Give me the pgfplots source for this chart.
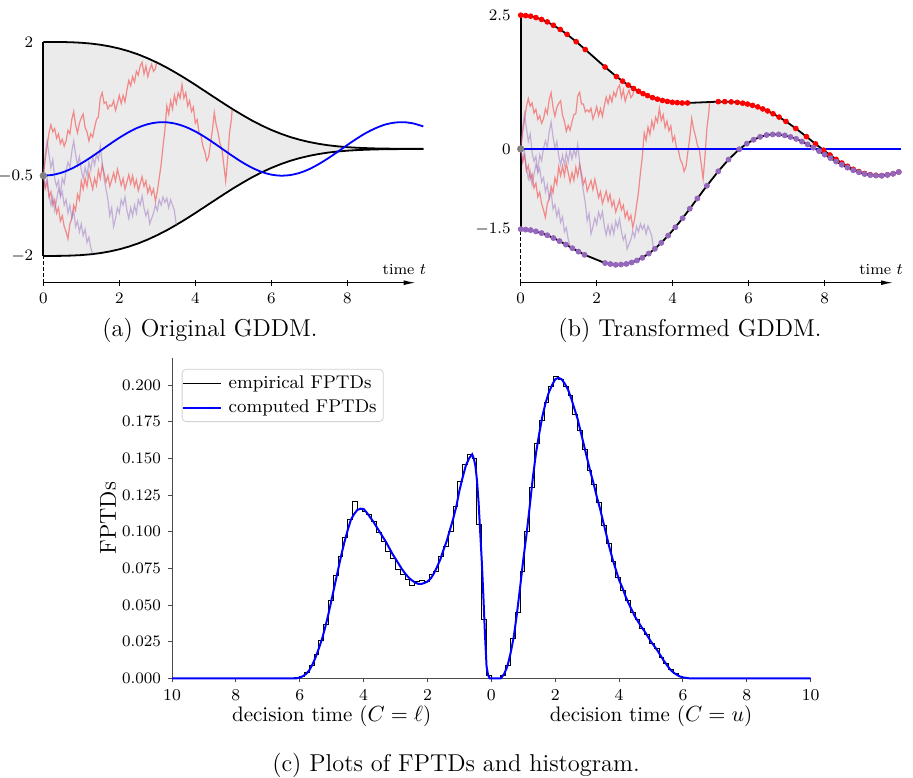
\documentclass[border=0pt]{standalone}
\usepackage{pgfplots}
\pgfplotsset{compat=1.18}
\usepackage{pgfplotstable}
\usetikzlibrary{arrows.meta}

\definecolor{tabpurple}{RGB}{148,103,189}
\definecolor{fillgray}{RGB}{235,235,235}

% boundaries of the original GDDM
\pgfplotstableread{
t u l
0 2.000 -2.000
0.25 2.000 -2.000
0.5 1.998 -1.998
0.75 1.993 -1.993
1 1.984 -1.984
1.25 1.969 -1.969
1.5 1.947 -1.947
1.75 1.916 -1.916
2 1.876 -1.876
2.25 1.826 -1.826
2.5 1.765 -1.765
2.75 1.693 -1.693
3 1.611 -1.611
3.25 1.520 -1.520
3.5 1.419 -1.419
3.75 1.312 -1.312
4 1.199 -1.199
4.25 1.082 -1.082
4.5 0.965 -0.965
4.75 0.849 -0.849
5 0.736 -0.736
5.25 0.629 -0.629
5.5 0.528 -0.528
5.75 0.437 -0.437
6 0.355 -0.355
6.25 0.284 -0.284
6.5 0.222 -0.222
6.75 0.171 -0.171
7 0.129 -0.129
7.25 0.095 -0.095
7.5 0.068 -0.068
7.75 0.048 -0.048
8 0.033 -0.033
8.25 0.022 -0.022
8.5 0.015 -0.015
8.75 0.009 -0.009
9 0.006 -0.006
9.25 0.004 -0.004
9.5 0.002 -0.002
9.75 0.001 -0.001
10 0.001 -0.001
}\bnda

% shaded region of (a): upper boundary forward, lower boundary back
\pgfplotstableread{
t y
0 2.000
0.25 2.000
0.5 1.998
0.75 1.993
1 1.984
1.25 1.969
1.5 1.947
1.75 1.916
2 1.876
2.25 1.826
2.5 1.765
2.75 1.693
3 1.611
3.25 1.520
3.5 1.419
3.75 1.312
4 1.199
4.25 1.082
4.5 0.965
4.75 0.849
5 0.736
5.25 0.629
5.5 0.528
5.75 0.437
6 0.355
6.25 0.284
6.5 0.222
6.75 0.171
7 0.129
7.25 0.095
7.5 0.068
7.75 0.048
8 0.033
8.25 0.022
8.5 0.015
8.75 0.009
9 0.006
9.5 0.002
10 0.001
10 -0.001
9.5 -0.002
9 -0.006
8.75 -0.009
8.5 -0.015
8.25 -0.022
8 -0.033
7.75 -0.048
7.5 -0.068
7.25 -0.095
7 -0.129
6.75 -0.171
6.5 -0.222
6.25 -0.284
6 -0.355
5.75 -0.437
5.5 -0.528
5.25 -0.629
5 -0.736
4.75 -0.849
4.5 -0.965
4.25 -1.082
4 -1.199
3.75 -1.312
3.5 -1.419
3.25 -1.520
3 -1.611
2.75 -1.693
2.5 -1.765
2.25 -1.826
2 -1.876
1.75 -1.916
1.5 -1.947
1.25 -1.969
1 -1.984
0.75 -1.993
0.5 -1.998
0.25 -2.000
0 -2.000
}\polya

% drift of the original GDDM
\pgfplotstableread{
t y
0 -0.500
0.25 -0.484
0.5 -0.439
0.75 -0.366
1 -0.270
1.25 -0.158
1.5 -0.035
1.75 0.089
2 0.208
2.25 0.314
2.5 0.401
2.75 0.462
3 0.495
3.25 0.497
3.5 0.468
3.75 0.410
4 0.327
4.25 0.223
4.5 0.105
4.75 -0.019
5 -0.142
5.25 -0.256
5.5 -0.354
5.75 -0.431
6 -0.480
6.25 -0.500
6.5 -0.488
6.75 -0.447
7 -0.377
7.25 -0.283
7.5 -0.173
7.75 -0.052
8 0.073
8.25 0.193
8.5 0.301
8.75 0.389
9 0.456
9.25 0.492
9.5 0.499
9.75 0.474
10 0.420
}\drifta

% transformed upper boundary (sample points)
\pgfplotstableread{
t y
0 2.500
0.13 2.492
0.26 2.482
0.4 2.456
0.55 2.421
0.7 2.375
0.86 2.312
1.04 2.234
1.22 2.142
1.46 2.005
1.7 1.858
2.22 1.531
2.52 1.353
2.68 1.268
2.83 1.194
2.97 1.130
3.1 1.079
3.22 1.034
3.34 0.997
3.47 0.960
3.6 0.931
3.73 0.906
3.86 0.889
3.99 0.873
4.12 0.866
4.25 0.859
4.39 0.860
5.2 0.884
5.37 0.884
5.54 0.880
5.7 0.871
5.84 0.856
5.97 0.839
6.1 0.815
6.24 0.786
6.37 0.748
6.5 0.710
6.64 0.658
6.8 0.596
6.98 0.515
7.24 0.383
7.52 0.230
7.76 0.094
7.97 -0.023
8.14 -0.113
8.3 -0.194
8.45 -0.263
8.6 -0.324
8.75 -0.380
8.9 -0.422
9.05 -0.458
9.2 -0.480
9.35 -0.492
9.5 -0.497
9.65 -0.483
9.8 -0.462
9.95 -0.430
}\upb

% transformed lower boundary (sample points)
\pgfplotstableread{
t y
0 -1.500
0.13 -1.508
0.26 -1.517
0.4 -1.541
0.55 -1.573
0.7 -1.613
0.86 -1.665
1.02 -1.722
1.19 -1.788
1.36 -1.855
1.52 -1.919
1.68 -1.979
2.22 -2.133
2.36 -2.151
2.5 -2.166
2.64 -2.160
2.78 -2.149
2.92 -2.122
3.06 -2.085
3.2 -2.035
3.37 -1.955
3.53 -1.867
3.7 -1.755
3.88 -1.620
4.07 -1.464
4.26 -1.296
4.45 -1.117
4.65 -0.926
4.9 -0.688
5.2 -0.417
5.47 -0.198
5.75 -0.006
5.95 0.099
6.13 0.172
6.3 0.226
6.47 0.260
6.63 0.271
6.79 0.272
6.95 0.254
7.1 0.224
7.25 0.188
7.4 0.138
7.55 0.085
7.7 0.024
7.85 -0.040
8.0 -0.106
8.15 -0.171
8.3 -0.235
8.45 -0.296
8.6 -0.349
8.75 -0.398
8.9 -0.436
9.05 -0.469
9.2 -0.489
9.35 -0.498
9.5 -0.501
9.65 -0.485
9.8 -0.464
9.95 -0.431
}\lob

% shaded region of (b)
\pgfplotstableread{
t y
0 2.500
0.13 2.492
0.26 2.482
0.4 2.456
0.55 2.421
0.7 2.375
0.86 2.312
1.04 2.234
1.22 2.142
1.46 2.005
1.7 1.858
2.22 1.531
2.52 1.353
2.68 1.268
2.83 1.194
2.97 1.130
3.1 1.079
3.22 1.034
3.34 0.997
3.47 0.960
3.6 0.931
3.73 0.906
3.86 0.889
3.99 0.873
4.12 0.866
4.25 0.859
4.39 0.860
5.2 0.884
5.37 0.884
5.54 0.880
5.7 0.871
5.84 0.856
5.97 0.839
6.1 0.815
6.24 0.786
6.37 0.748
6.5 0.710
6.64 0.658
6.8 0.596
6.98 0.515
7.24 0.383
7.52 0.230
7.76 0.094
7.97 -0.023
8.14 -0.113
8.3 -0.194
8.45 -0.263
8.6 -0.324
8.75 -0.380
8.9 -0.422
9.05 -0.458
9.2 -0.480
9.35 -0.492
9.5 -0.497
9.65 -0.483
9.8 -0.462
9.95 -0.430
9.95 -0.431
9.8 -0.464
9.65 -0.485
9.5 -0.501
9.35 -0.498
9.2 -0.489
9.05 -0.469
8.9 -0.436
8.75 -0.398
8.6 -0.349
8.45 -0.296
8.3 -0.235
8.15 -0.171
8.0 -0.106
7.85 -0.040
7.7 0.024
7.55 0.085
7.4 0.138
7.25 0.188
7.1 0.224
6.95 0.254
6.79 0.272
6.63 0.271
6.47 0.260
6.3 0.226
6.13 0.172
5.95 0.099
5.75 -0.006
5.47 -0.198
5.2 -0.417
4.9 -0.688
4.65 -0.926
4.45 -1.117
4.26 -1.296
4.07 -1.464
3.88 -1.620
3.7 -1.755
3.53 -1.867
3.37 -1.955
3.2 -2.035
3.06 -2.085
2.92 -2.122
2.78 -2.149
2.64 -2.160
2.5 -2.166
2.36 -2.151
2.22 -2.133
1.68 -1.979
1.52 -1.919
1.36 -1.855
1.19 -1.788
1.02 -1.722
0.86 -1.665
0.7 -1.613
0.55 -1.573
0.4 -1.541
0.26 -1.517
0.13 -1.508
0 -1.500
}\polyb

% sample paths: t, original (a), transformed (b)
\pgfplotstableread{
t a b
0.00 -0.50 0.00
0.05 -0.20 0.30
0.10 0.05 0.55
0.15 0.30 0.79
0.20 0.45 0.94
0.25 0.32 0.80
0.30 0.38 0.86
0.35 0.20 0.67
0.40 0.28 0.74
0.45 0.10 0.55
0.50 0.18 0.62
0.55 0.05 0.48
0.60 0.15 0.56
0.65 0.35 0.75
0.70 0.28 0.66
0.75 0.55 0.92
0.80 0.70 1.05
0.85 0.45 0.78
0.90 0.30 0.61
0.95 0.48 0.77
1.00 0.58 0.85
1.05 0.65 0.90
1.10 0.40 0.63
1.15 0.32 0.52
1.20 0.15 0.33
1.25 0.28 0.44
1.30 0.22 0.35
1.35 0.40 0.51
1.40 0.55 0.64
1.45 0.60 0.66
1.50 0.95 0.99
1.55 1.05 1.06
1.60 0.85 0.84
1.65 0.88 0.84
1.70 0.75 0.69
1.75 0.82 0.73
1.80 0.80 0.69
1.85 0.90 0.76
1.90 0.72 0.56
1.95 0.85 0.66
2.00 1.00 0.79
2.05 0.85 0.62
2.10 1.00 0.75
2.15 0.88 0.61
2.20 1.10 0.81
2.25 1.28 0.97
2.30 1.18 0.85
2.35 1.35 1.00
2.40 1.25 0.88
2.45 1.45 1.06
2.50 1.38 0.98
2.55 1.55 1.13
2.60 1.62 1.19
2.65 1.40 0.96
2.70 1.55 1.10
2.75 1.35 0.89
2.80 1.48 1.01
2.85 1.58 1.10
2.90 1.45 0.96
2.95 1.50 1.01
2.98 1.61 1.11
}\pathA

\pgfplotstableread{
t a b
0.00 -0.50 0.00
0.05 -0.75 -0.25
0.10 -0.62 -0.12
0.15 -0.90 -0.41
0.20 -0.80 -0.31
0.25 -1.05 -0.57
0.30 -0.95 -0.47
0.35 -1.20 -0.73
0.40 -1.10 -0.64
0.45 -1.35 -0.90
0.50 -1.25 -0.81
0.55 -1.45 -1.02
0.60 -1.55 -1.14
0.65 -1.68 -1.28
0.70 -1.40 -1.02
0.75 -1.30 -0.93
0.80 -1.05 -0.70
0.85 -1.15 -0.82
0.90 -0.85 -0.54
0.95 -0.95 -0.66
1.00 -0.60 -0.33
1.05 -0.75 -0.50
1.10 -0.55 -0.32
1.15 -0.70 -0.50
1.20 -0.45 -0.27
1.25 -0.60 -0.44
1.30 -0.75 -0.62
1.35 -0.55 -0.44
1.40 -0.68 -0.59
1.45 -0.40 -0.34
1.50 -0.55 -0.51
1.55 -0.30 -0.29
1.60 -0.45 -0.46
1.65 -0.62 -0.66
1.70 -0.50 -0.56
1.75 -0.70 -0.79
1.80 -0.58 -0.69
1.85 -0.45 -0.59
1.90 -0.60 -0.76
1.95 -0.38 -0.57
2.00 -0.52 -0.73
2.05 -0.68 -0.91
2.10 -0.55 -0.80
2.15 -0.75 -1.02
2.20 -0.62 -0.91
2.25 -0.48 -0.79
2.30 -0.65 -0.98
2.35 -0.50 -0.85
2.40 -0.70 -1.07
2.45 -0.58 -0.97
2.50 -0.78 -1.18
2.55 -0.65 -1.07
2.60 -0.52 -0.95
2.65 -0.70 -1.14
2.70 -0.60 -1.05
2.75 -0.82 -1.28
2.80 -0.70 -1.17
2.85 -0.85 -1.33
2.90 -0.75 -1.24
2.95 -0.98 -1.47
3.00 -0.80 -1.30
3.05 -0.55 -1.05
3.10 -0.30 -0.80
3.15 0.05 -0.45
3.20 0.35 -0.15
3.25 0.80 0.30
3.30 0.65 0.16
3.35 0.90 0.41
3.40 0.75 0.27
3.45 1.00 0.52
3.50 0.85 0.38
3.55 1.05 0.59
3.60 0.95 0.50
3.65 1.20 0.76
3.70 0.95 0.53
3.75 1.05 0.64
3.80 0.80 0.40
3.85 0.90 0.52
3.90 0.70 0.34
3.95 0.78 0.43
4.00 0.48 0.15
4.05 0.55 0.24
4.10 0.30 0.01
4.15 0.25 -0.02
4.20 0.05 -0.20
4.25 -0.05 -0.27
4.30 -0.22 -0.42
4.35 -0.15 -0.33
4.40 0.10 -0.05
4.45 0.35 0.22
4.50 0.68 0.57
4.55 0.45 0.37
4.60 0.30 0.24
4.65 0.10 0.07
4.70 0.00 -0.01
4.75 -0.30 -0.28
4.80 -0.60 -0.56
4.85 -0.20 -0.13
4.90 0.30 0.39
4.95 0.55 0.67
4.97 0.74 0.87
}\pathB

\pgfplotstableread{
t a b
0.00 -0.50 0.00
0.05 -0.10 0.40
0.10 0.15 0.65
0.15 -0.10 0.39
0.20 -0.35 0.14
0.25 -0.20 0.28
0.30 -0.55 -0.07
0.35 -0.70 -0.23
0.40 -0.60 -0.14
0.45 -0.90 -0.45
0.50 -0.80 -0.36
0.55 -1.05 -0.62
0.60 -0.95 -0.54
0.65 -1.20 -0.80
0.70 -1.05 -0.67
0.75 -1.30 -0.93
0.80 -1.15 -0.80
0.85 -1.45 -1.12
0.90 -1.35 -1.04
0.95 -1.55 -1.26
1.00 -1.40 -1.13
1.05 -1.62 -1.37
1.10 -1.50 -1.27
1.15 -1.75 -1.55
1.20 -1.65 -1.47
1.25 -1.85 -1.69
1.30 -1.96 -1.83
}\pathC

\pgfplotstableread{
t a b
0.00 -0.50 0.00
0.05 -0.70 -0.20
0.10 -0.55 -0.05
0.15 -0.85 -0.36
0.20 -1.05 -0.56
0.25 -0.90 -0.42
0.30 -1.15 -0.67
0.35 -0.95 -0.48
0.40 -0.75 -0.29
0.45 -0.85 -0.40
0.50 -0.55 -0.11
0.55 -0.65 -0.22
0.60 -0.40 0.01
0.65 -0.25 0.15
0.70 -0.35 0.03
0.75 -0.05 0.32
0.80 0.15 0.50
0.85 -0.10 0.23
0.90 -0.30 0.01
0.95 -0.15 0.14
1.00 -0.40 -0.13
1.05 -0.55 -0.30
1.10 -0.35 -0.12
1.15 -0.50 -0.30
1.20 -0.25 -0.07
1.25 -0.40 -0.24
1.30 -0.15 -0.02
1.35 -0.30 -0.19
1.40 -0.10 -0.01
1.45 -0.20 -0.14
1.50 0.05 0.09
1.55 -0.25 -0.24
1.60 -0.55 -0.56
1.65 -0.75 -0.79
1.70 -0.95 -1.01
1.75 -1.25 -1.34
1.80 -1.10 -1.21
1.85 -1.45 -1.59
1.90 -1.30 -1.46
1.95 -1.10 -1.29
2.00 -1.20 -1.41
2.05 -0.95 -1.18
2.10 -1.05 -1.30
2.15 -0.90 -1.17
2.20 -1.15 -1.44
2.25 -1.30 -1.61
2.30 -1.10 -1.43
2.35 -1.25 -1.60
2.40 -1.05 -1.42
2.45 -1.20 -1.59
2.50 -0.95 -1.35
2.55 -1.05 -1.47
2.60 -0.88 -1.31
2.65 -1.10 -1.54
2.70 -1.25 -1.70
2.75 -1.15 -1.61
2.80 -1.40 -1.87
2.85 -1.30 -1.78
2.90 -1.20 -1.69
2.95 -1.05 -1.54
3.00 -1.15 -1.65
3.05 -0.95 -1.45
3.10 -1.05 -1.55
3.15 -0.90 -1.40
3.20 -1.00 -1.50
3.25 -0.92 -1.42
3.30 -1.10 -1.59
3.35 -0.95 -1.44
3.40 -1.05 -1.53
3.45 -1.15 -1.63
3.50 -1.42 -1.89
}\pathD

% histogram of first passage times (left bin edge, height); negative side is C = l
\pgfplotstableread{
x y
-6.30 0
-6.15 0.0003
-6.00 0.0015
-5.85 0.0040
-5.70 0.0090
-5.55 0.0160
-5.40 0.0260
-5.25 0.0370
-5.10 0.0530
-4.95 0.0700
-4.80 0.0830
-4.65 0.0960
-4.50 0.1080
-4.35 0.1205
-4.20 0.1150
-4.05 0.1140
-3.90 0.1120
-3.75 0.1070
-3.60 0.0995
-3.45 0.0935
-3.30 0.0865
-3.15 0.0820
-3.00 0.0740
-2.85 0.0705
-2.70 0.0675
-2.55 0.0630
-2.40 0.0660
-2.25 0.0665
-2.10 0.0660
-1.95 0.0710
-1.80 0.0730
-1.65 0.0830
-1.50 0.0900
-1.35 0.1000
-1.20 0.1170
-1.05 0.1340
-0.90 0.1460
-0.75 0.1530
-0.60 0.1500
-0.45 0.1050
-0.30 0.0400
-0.15 0.0020
0.00 0
0.15 0
0.30 0.0020
0.45 0.0090
0.60 0.0270
0.75 0.0450
0.90 0.0730
1.05 0.1000
1.20 0.1300
1.35 0.1600
1.50 0.1760
1.65 0.1880
1.80 0.1990
1.95 0.2060
2.10 0.2040
2.25 0.1990
2.40 0.1930
2.55 0.1800
2.70 0.1690
2.85 0.1560
3.00 0.1420
3.15 0.1320
3.30 0.1200
3.45 0.1040
3.60 0.0920
3.75 0.0800
3.90 0.0690
4.05 0.0600
4.20 0.0530
4.35 0.0450
4.50 0.0400
4.65 0.0340
4.80 0.0300
4.95 0.0235
5.10 0.0200
5.25 0.0145
5.40 0.0100
5.55 0.0060
5.70 0.0030
5.85 0.0012
6.00 0.0003
6.15 0
}\histo

% computed densities
\pgfplotstableread{
x y
-10 0
-6.1 0
-6.0 0.0005
-5.9 0.0015
-5.8 0.003
-5.7 0.0055
-5.6 0.0095
-5.5 0.0145
-5.4 0.0205
-5.3 0.027
-5.2 0.035
-5.1 0.044
-5.0 0.054
-4.9 0.064
-4.8 0.074
-4.7 0.084
-4.6 0.093
-4.5 0.101
-4.4 0.108
-4.3 0.112
-4.2 0.1148
-4.1 0.1157
-4.0 0.1155
-3.9 0.113
-3.8 0.110
-3.7 0.107
-3.6 0.1035
-3.5 0.100
-3.4 0.0965
-3.3 0.093
-3.2 0.089
-3.1 0.085
-3.0 0.0815
-2.9 0.078
-2.8 0.0745
-2.7 0.0715
-2.6 0.069
-2.5 0.067
-2.4 0.0655
-2.3 0.0645
-2.2 0.0643
-2.1 0.065
-2.0 0.066
-1.9 0.068
-1.8 0.0715
-1.7 0.076
-1.6 0.081
-1.5 0.0875
-1.4 0.0935
-1.3 0.101
-1.2 0.1085
-1.1 0.117
-1.0 0.128
-0.9 0.137
-0.8 0.145
-0.7 0.150
-0.6 0.1528
-0.55 0.150
-0.5 0.145
-0.45 0.135
-0.4 0.120
-0.35 0.100
-0.3 0.080
-0.25 0.056
-0.2 0.030
-0.15 0.008
-0.1 0.002
-0.05 0
0.3 0
0.4 0.003
0.5 0.008
0.6 0.017
0.7 0.028
0.8 0.044
0.9 0.062
1.0 0.081
1.1 0.098
1.2 0.117
1.3 0.137
1.4 0.154
1.5 0.167
1.6 0.179
1.7 0.188
1.8 0.195
1.9 0.200
2.0 0.204
2.1 0.205
2.2 0.204
2.3 0.201
2.4 0.197
2.5 0.191
2.6 0.184
2.7 0.177
2.8 0.168
2.9 0.159
3.0 0.150
3.1 0.141
3.2 0.133
3.3 0.124
3.4 0.116
3.5 0.107
3.6 0.098
3.7 0.089
3.8 0.081
3.9 0.074
4.0 0.067
4.1 0.062
4.2 0.056
4.3 0.051
4.4 0.0465
4.5 0.042
4.6 0.0385
4.7 0.035
4.8 0.032
4.9 0.0285
5.0 0.025
5.1 0.022
5.2 0.019
5.3 0.0155
5.4 0.012
5.5 0.009
5.6 0.006
5.7 0.004
5.8 0.0025
5.9 0.0013
6.0 0.0006
6.2 0
10 0
}\dens

\pgfplotsset{
  gddm/.style={
    scale only axis, clip=false,
    xmin=0, xmax=9.8,
    axis x line*=bottom, axis y line*=left,
    x axis line style={line width=0.6pt, -{Latex[length=6pt,width=2.4pt]}},
    y axis line style={draw=none},
    xtick={0,2,4,6,8},
    tick align=center, major tick length=3pt,
    xtick style={line width=0.6pt, black},
    ytick style={draw=none},
    tick label style={font=\fontsize{7.7}{9}\selectfont},
  },
  redpath/.style={red, opacity=0.42, line width=0.6pt},
  purplepath/.style={tabpurple, opacity=0.45, line width=0.6pt},
}

\begin{document}
\begin{tikzpicture}
\useasboundingbox (0,0) rectangle (456.5pt,388.5pt);

% ---------------- (a) ----------------
\begin{axis}[gddm, at={(21.65pt,247.15pt)}, anchor=south west,
  width=186.2pt, height=120.4pt, ymin=-2.5, ymax=2,
  ytick={-2,-0.5,2}]
  \addplot[fill=fillgray, draw=none] table[x=t,y=y] {\polya};
  \addplot[black, line width=0.9pt] table[x=t,y=u] {\bnda};
  \addplot[black, line width=0.9pt] table[x=t,y=l] {\bnda};
  \addplot[black, line width=0.9pt] coordinates {(0,-2) (0,2)};
  \addplot[black, line width=0.5pt, dash pattern=on 1.6pt off 1.4pt] coordinates {(0,-2.5) (0,-2)};
  \addplot[redpath] table[x=t,y=a] {\pathA};
  \addplot[redpath] table[x=t,y=a] {\pathB};
  \addplot[purplepath] table[x=t,y=a] {\pathC};
  \addplot[purplepath] table[x=t,y=a] {\pathD};
  \addplot[blue, line width=0.9pt, smooth] table[x=t,y=y] {\drifta};
  \addplot[only marks, mark=*, mark size=1.6pt, color=gray] coordinates {(0,-0.5)};
  \node[anchor=base east, font=\fontsize{7.7}{9}\selectfont] at (axis cs:10.26,-2.34) {time $t$};
\end{axis}

% ---------------- (b) ----------------
\begin{axis}[gddm, at={(260.35pt,247.15pt)}, anchor=south west,
  width=186.2pt, height=133.75pt, ymin=-2.5, ymax=2.5,
  ytick={-1.5,0,2.5}]
  \addplot[fill=fillgray, draw=none] table[x=t,y=y] {\polyb};
  \addplot[black, line width=0.9pt] table[x=t,y=y] {\upb};
  \addplot[black, line width=0.9pt] table[x=t,y=y] {\lob};
  \addplot[black, line width=0.9pt] coordinates {(0,-1.5) (0,2.5)};
  \addplot[black, line width=0.5pt, dash pattern=on 1.6pt off 1.4pt] coordinates {(0,-2.5) (0,-1.5)};
  \addplot[redpath] table[x=t,y=b] {\pathA};
  \addplot[redpath] table[x=t,y=b] {\pathB};
  \addplot[purplepath] table[x=t,y=b] {\pathC};
  \addplot[purplepath] table[x=t,y=b] {\pathD};
  \addplot[blue, line width=0.9pt] coordinates {(0,0) (10,0)};
  \addplot[only marks, mark=*, mark size=1.2pt, color=red] table[x=t,y=y] {\upb};
  \addplot[only marks, mark=*, mark size=1.25pt, color=tabpurple] table[x=t,y=y] {\lob};
  \addplot[only marks, mark=*, mark size=1.6pt, color=gray] coordinates {(0,0)};
  \node[anchor=base east, font=\fontsize{7.7}{9}\selectfont] at (axis cs:10.24,-2.34) {time $t$};
\end{axis}

% ---------------- (c) ----------------
\begin{axis}[scale only axis, clip=false,
  at={(86pt,49.35pt)}, anchor=south west,
  width=319.35pt, height=160.15pt,
  xmin=-10, xmax=10, ymin=0, ymax=0.2185,
  axis lines*=left,
  axis line style={black!70, line width=0.5pt},
  tick align=outside, major tick length=2pt,
  tick style={black!70, line width=0.5pt},
  xtick={-10,-8,-6,-4,-2,0,2,4,6,8,10},
  xticklabels={10,8,6,4,2,0,2,4,6,8,10},
  ytick={0,0.025,0.05,0.075,0.1,0.125,0.15,0.175,0.2},
  scaled y ticks=false,
  yticklabel style={/pgf/number format/fixed, /pgf/number format/fixed zerofill, /pgf/number format/precision=3},
  tick label style={font=\fontsize{8.3}{9.5}\selectfont},
  ylabel={FPTDs},
  ylabel style={at={(axis description cs:-0.1,0.5)}, anchor=center, font=\fontsize{11.5}{13}\selectfont},
  legend style={at={(axis description cs:0.0152,0.966)}, anchor=north west,
    draw=black!18, rounded corners=2pt, fill=white,
    font=\fontsize{9.2}{11}\selectfont, inner xsep=0pt, inner ysep=1pt,
    nodes={inner xsep=3.3pt, inner ysep=2.1pt}},
  legend cell align=left,
  legend image code/.code={\draw[#1] (0pt,0pt) -- (19pt,0pt);},
  ]
  \addplot[const plot mark left, black, line width=0.5pt] table[x=x,y=y] {\histo};
  \addlegendentry{empirical FPTDs}
  \addplot[blue, line width=1pt] table[x=x,y=y] {\dens};
  \addlegendentry{computed FPTDs}
  \node[font=\fontsize{10.5}{12}\selectfont, yshift=-19pt] at (axis cs:-5,0) {decision time ($C=\ell$)};
  \node[font=\fontsize{10.5}{12}\selectfont, yshift=-19pt] at (axis cs:5,0) {decision time ($C=u$)};
\end{axis}

% captions
\node[font=\fontsize{12.2}{14}\selectfont] at (105pt,223.5pt) {(a) Original GDDM.};
\node[font=\fontsize{12.2}{14}\selectfont] at (345pt,223.5pt) {(b) Transformed GDDM.};
\node[font=\fontsize{12.2}{14}\selectfont] at (228pt,6pt) {(c) Plots of FPTDs and histogram.};
\end{tikzpicture}
\end{document}
